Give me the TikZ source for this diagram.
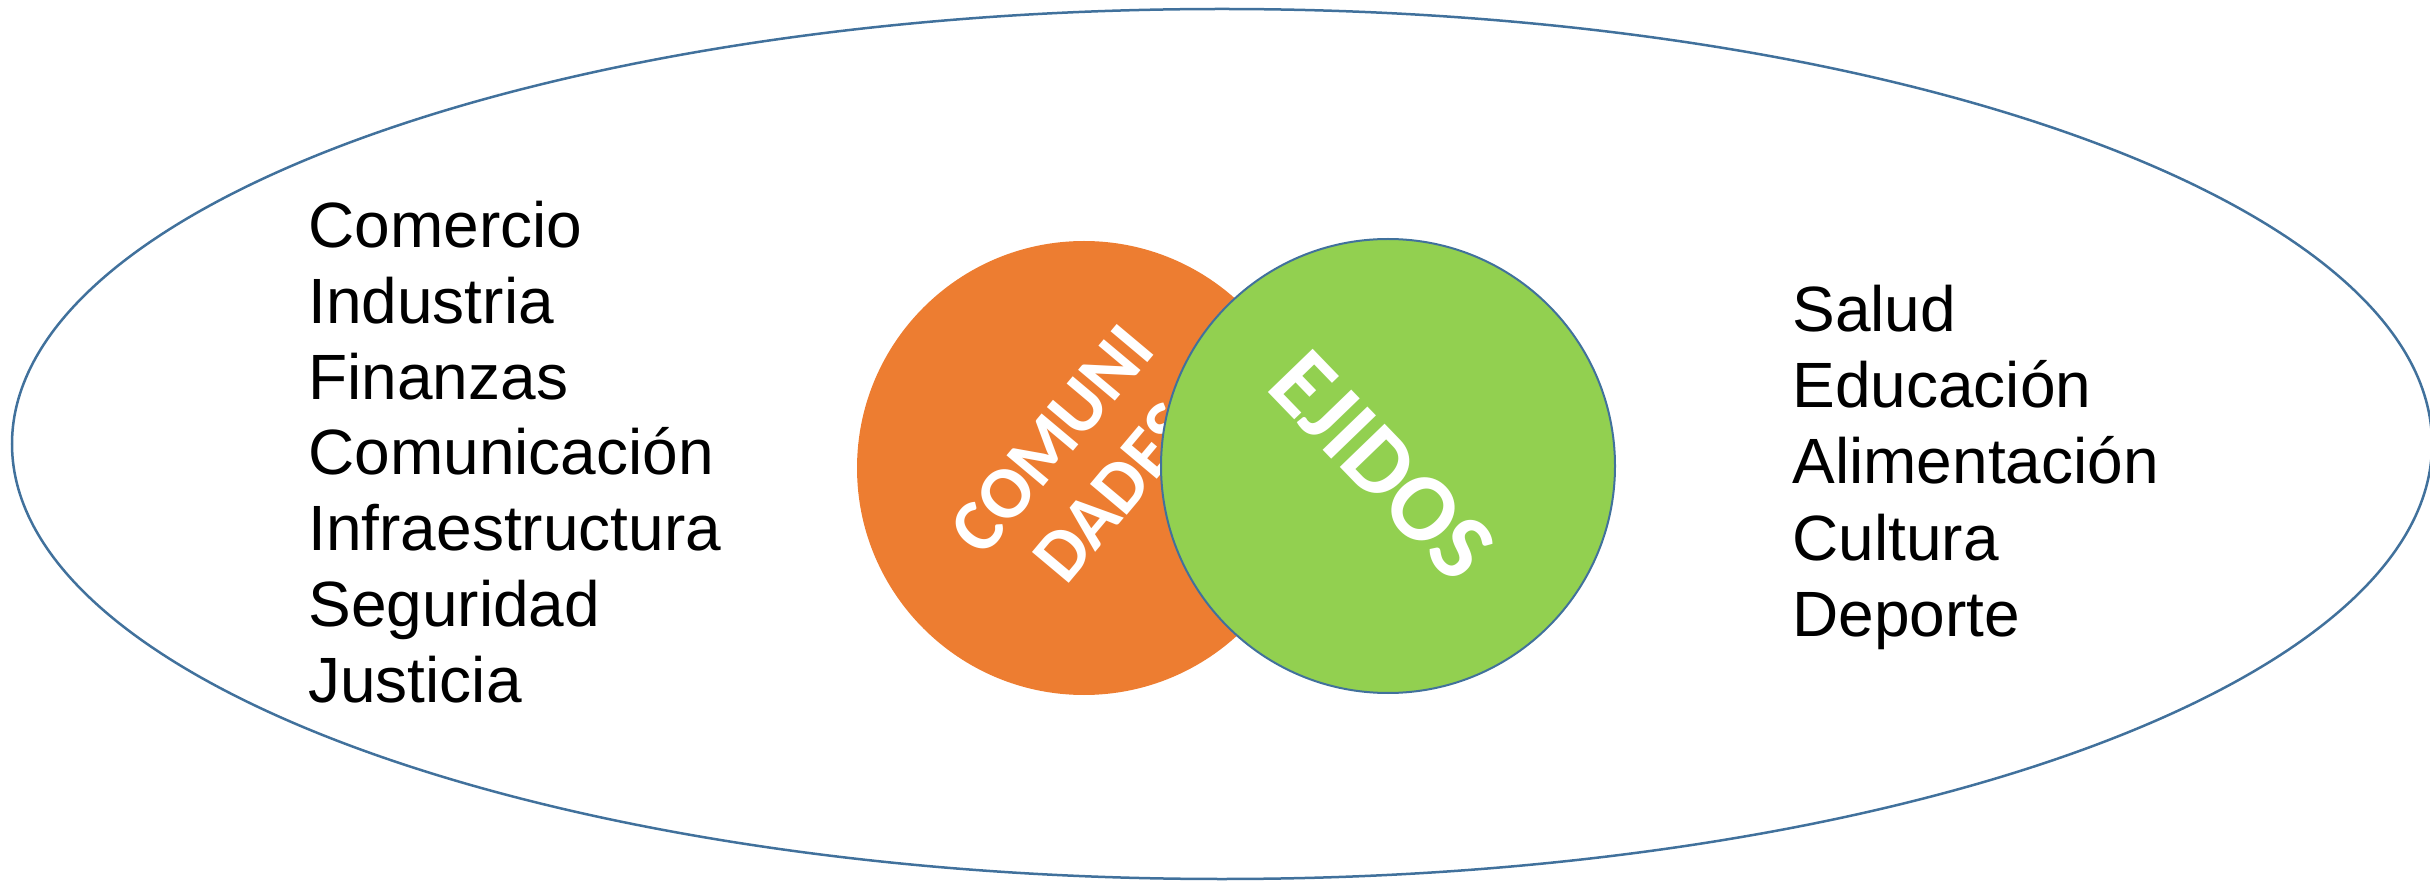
\documentclass[tikz,border=0pt]{standalone}
\usepackage{fontspec}
\setmainfont{Liberation Sans}
\newfontfamily\calfont{Carlito}
\usetikzlibrary{shapes.geometric}
\definecolor{outl}{HTML}{41719C}
\definecolor{orng}{HTML}{ED7D31}
\definecolor{grn}{HTML}{92D050}
\begin{document}
\begin{tikzpicture}[x=0.5pt,y=-0.5pt,
  item/.style={anchor=base west, inner sep=0pt, font=\fontsize{32}{38}\selectfont},
  disc/.style={circle, inner sep=0pt, minimum size=227pt},
  bigtext/.style={text=white, inner sep=0pt, align=center}]
\useasboundingbox (0,0) rectangle (2430,881);
\node[ellipse, draw=outl, line width=1.25pt, minimum width=1210pt, minimum height=435pt, inner sep=0pt] (outer) at (1222,444) {};
% left list
\node[item] (l1) at (308,248) {Comercio};
\node[item] (l2) at (308,323.7) {Industria};
\node[item] (l3) at (308,399.3) {Finanzas};
\node[item] (l4) at (308,475) {Comunicación};
\node[item] (l5) at (308,550.7) {Infraestructura};
\node[item] (l6) at (308,626.3) {Seguridad};
\node[item] (l7) at (308,702) {Justicia};
% right list
\node[item] (r1) at (1792,332) {Salud};
\node[item] (r2) at (1792,408) {Educación};
\node[item] (r3) at (1792,484) {Alimentación};
\node[item] (r4) at (1792,560) {Cultura};
\node[item] (r5) at (1792,636) {Deporte};
% circles
\node[disc, fill=orng] (com) at (1084,468) {};
\node[bigtext, rotate=50, font=\calfont\bfseries\fontsize{37}{41}\selectfont] (comtxt) at (1083,466) {COMUNI\\DADES};
\node[disc, fill=grn, draw=outl, line width=1pt] (eji) at (1388,466) {};
\node[bigtext, rotate=-46, font=\calfont\bfseries\fontsize{48}{54}\selectfont] (ejitxt) at (1382,466) {EJIDOS};
\end{tikzpicture}
\end{document}
